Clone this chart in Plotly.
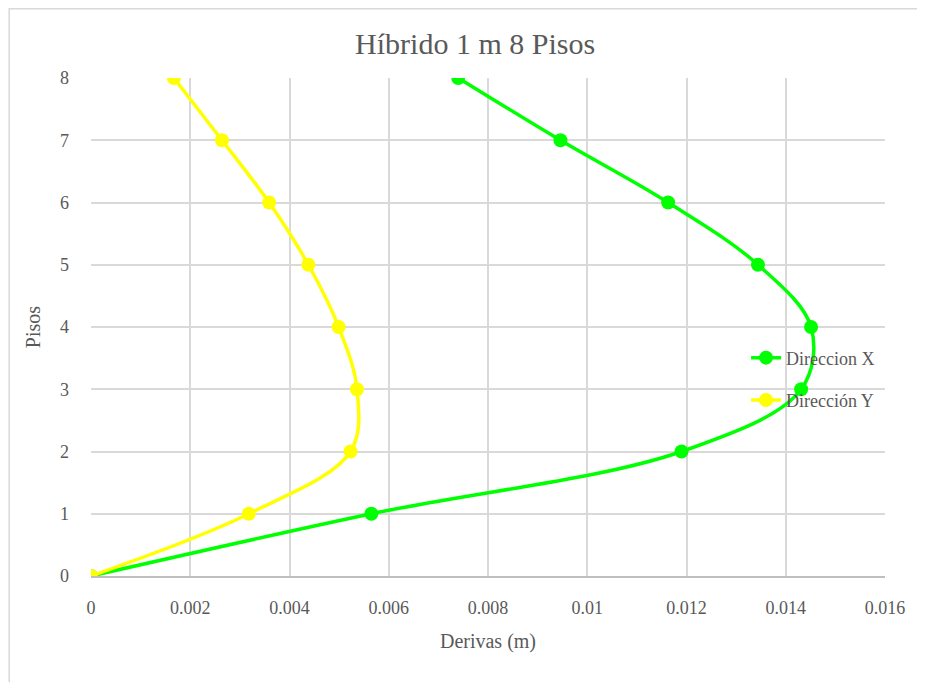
import plotly.graph_objects as go

PISOS = [0, 1, 2, 3, 4, 5, 6, 7, 8]
DERIVA_X = [0, 0.00565, 0.0119, 0.01431, 0.01451, 0.01344, 0.01163, 0.00946, 0.0074]
DERIVA_Y = [0, 0.00318, 0.00523, 0.00536, 0.00499, 0.00438, 0.00359, 0.00264, 0.00167]
X_TICKS = [0, 0.002, 0.004, 0.006, 0.008, 0.01, 0.012, 0.014, 0.016]
X_LABELS = ["0", "0.002", "0.004", "0.006", "0.008", "0.01", "0.012", "0.014", "0.016"]

GRIS = "#595959"
FUENTE = "Liberation Serif, Times New Roman, serif"

fig = go.Figure()
fig.add_trace(go.Scatter(x=DERIVA_X, y=PISOS, name="Direccion X", mode="lines+markers",
                         line=dict(color="#00ff00", width=3.5, shape="spline", smoothing=1),
                         marker=dict(size=14, color="#00ff00"), legendgroup="x"))
fig.add_trace(go.Scatter(x=DERIVA_Y, y=PISOS, name="Dirección Y", mode="lines+markers",
                         line=dict(color="#ffff00", width=3.5, shape="spline", smoothing=1),
                         marker=dict(size=14, color="#ffff00"), legendgroup="y"))

# la pagina tiene 8px de margen en el body, por eso los margenes van corridos
fig.update_layout(
    width=925, height=682,
    margin=dict(l=83, r=48, t=70, b=114),
    plot_bgcolor="white", paper_bgcolor="white",
    font=dict(family=FUENTE, color=GRIS, size=18),
    title=dict(text="Híbrido 1 m 8 Pisos", x=0.505, xanchor="center", y=0.948, yanchor="middle",
               font=dict(family=FUENTE, size=30, color=GRIS)),
    legend=dict(x=0.825, y=0.475, xanchor="left", yanchor="top", bgcolor="rgba(0,0,0,0)",
                font=dict(family=FUENTE, size=18, color=GRIS), tracegroupgap=16, traceorder="grouped"),
    xaxis=dict(range=[0, 0.016], tickvals=X_TICKS, ticktext=X_LABELS, showgrid=True,
               gridcolor="#d9d9d9", gridwidth=2, zeroline=False, showline=True, linecolor="#bfbfbf",
               linewidth=2, ticks="", ticklabelstandoff=14,
               tickfont=dict(family=FUENTE, size=18, color=GRIS),
               title=dict(text="Derivas (m)", font=dict(family=FUENTE, size=20, color=GRIS), standoff=17)),
    yaxis=dict(range=[0, 8], dtick=1, showgrid=True, gridcolor="#d9d9d9", gridwidth=2,
               zeroline=False, showline=False, ticks="", ticklabelstandoff=21,
               tickfont=dict(family=FUENTE, size=18, color=GRIS),
               title=dict(text="Pisos", font=dict(family=FUENTE, size=20, color=GRIS), standoff=14)),
    shapes=[dict(type="rect", xref="paper", yref="paper", x0=-0.103, x1=1.07, y0=-0.24, y1=1.139,
                 line=dict(color="#d9d9d9", width=1.5), layer="below")],
)

fig.write_html("out.html")
